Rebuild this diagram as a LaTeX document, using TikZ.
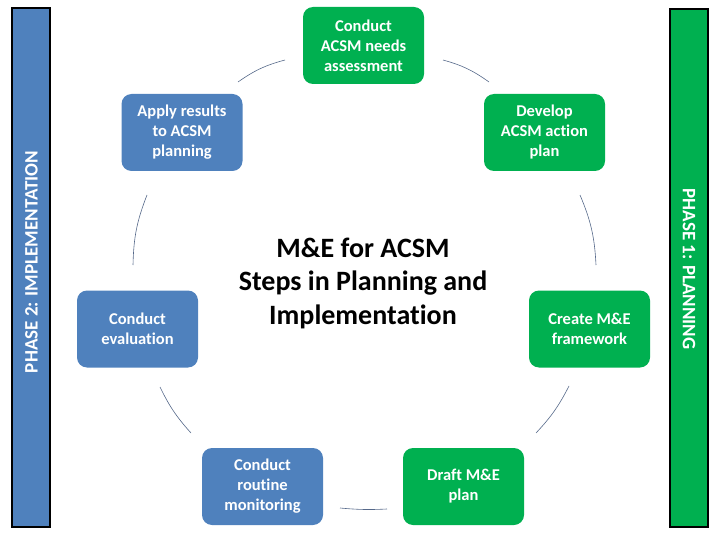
\documentclass[tikz,border=0pt]{standalone}
\usepackage{fontspec}
\setmainfont{Carlito}[Ligatures=CommonOff]
\definecolor{myblue}{HTML}{4F81BD}
\definecolor{mygreen}{HTML}{00B050}
\definecolor{connc}{HTML}{56698A}
\begin{document}
\begin{tikzpicture}[x=1pt,y=-1pt,
  stepbox/.style={rounded corners=10pt, minimum width=121pt, minimum height=77pt,
    align=center, inner sep=0pt, text=white,
    font=\bfseries\fontsize{16.5}{20}\selectfont},
  greenbox/.style={stepbox, fill=mygreen},
  bluebox/.style={stepbox, fill=myblue},
  phasebar/.style={draw=black, line width=2pt, minimum width=38pt, minimum height=518pt, inner sep=0pt},
  phasetext/.style={text=white, font=\bfseries\fontsize{19}{21}\selectfont, inner sep=0pt},
  conn/.style={draw=connc, line width=0.6pt}]
\useasboundingbox (0,0) rectangle (720,540);
% phase bars
\node[phasebar, fill=myblue] (bar2) at (30.5,267.5) {};
\node[phasetext, rotate=90] (ph2) at (31.5,262) {PHASE 2: IMPLEMENTATION};
\node[phasebar, fill=mygreen] (bar1) at (689,268) {};
\node[phasetext, rotate=-90] (ph1) at (689,269) {PHASE 1: PLANNING};
% steps
\node[greenbox] (s1) at (363.5,45.5) {Conduct\\ACSM needs\\assessment};
\node[greenbox] (s2) at (544.5,132.5) {Develop\\ACSM action\\plan};
\node[greenbox] (s3) at (589.5,329) {Create M\&E\\framework};
\node[greenbox] (s4) at (463.5,486.5) {Draft M\&E\\plan};
\node[bluebox] (s5) at (262.5,486.5) {Conduct\\routine\\monitoring};
\node[bluebox] (s6) at (137.5,329) {Conduct\\evaluation};
\node[bluebox] (s7) at (182,132.5) {Apply results\\to ACSM\\planning};
% title
\node[align=center, font=\bfseries\fontsize{28}{33.5}\selectfont] (title) at (363,283) {M\&E for ACSM\\Steps in Planning and\\Implementation};
% connector end points
\coordinate (c12a) at (443,60);  \coordinate (c12b) at (489,82);
\coordinate (c23a) at (580,195); \coordinate (c23b) at (596,265);
\coordinate (c34a) at (569,386); \coordinate (c34b) at (536,433);
\coordinate (c45a) at (387,509); \coordinate (c45b) at (340,508);
\coordinate (c56a) at (191,433); \coordinate (c56b) at (160,387);
\coordinate (c67a) at (133,265); \coordinate (c67b) at (147,195);
\coordinate (c71a) at (238,82);  \coordinate (c71b) at (285,60);
\draw[conn] (c12a) to[bend left=10] (c12b);
\draw[conn] (c23a) to[bend left=10] (c23b);
\draw[conn] (c34a) to[bend left=8] (c34b);
\draw[conn] (c45a) to[bend left=4] (c45b);
\draw[conn] (c56a) to[bend left=8] (c56b);
\draw[conn] (c67a) to[bend left=10] (c67b);
\draw[conn] (c71a) to[bend left=10] (c71b);
\end{tikzpicture}
\end{document}
